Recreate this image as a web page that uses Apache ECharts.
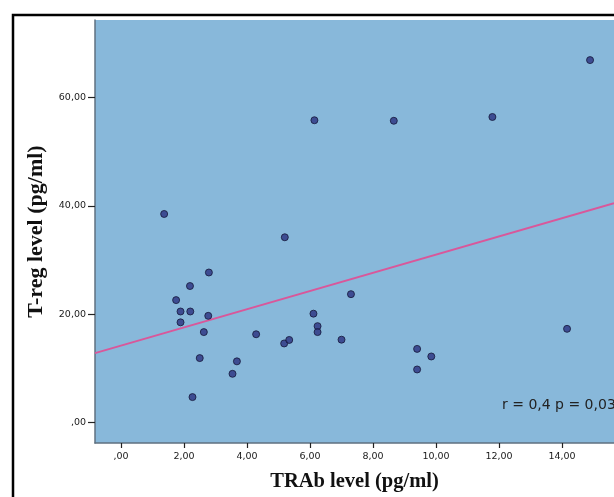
<!DOCTYPE html>
<html>
<head>
<meta charset="utf-8">
<script src="https://cdn.jsdelivr.net/npm/echarts@6/dist/echarts.min.js"></script>
<style>
  html, body { margin: 0; padding: 0; background: #fff; }
  #chart { width: 614px; height: 497px; }
</style>
</head>
<body>
<div id="chart"></div>
<script>
// TRAb level (x) vs T-reg level (y)
const trab = [1.37, 5.2, 2.79, 2.19, 1.75, 1.89, 2.2, 2.77, 1.89, 2.63, 4.29, 5.18, 5.34,
  6.11, 6.24, 6.24, 7.0, 7.3, 2.5, 3.68, 3.54, 2.27, 6.14, 8.66, 11.79, 14.89,
  9.4, 9.85, 9.4, 14.16];
const treg = [38.5, 34.2, 27.7, 25.2, 22.6, 20.5, 20.5, 19.7, 18.5, 16.7, 16.3, 14.6, 15.25,
  20.1, 17.8, 16.7, 15.3, 23.7, 11.9, 11.3, 9.0, 4.7, 55.8, 55.7, 56.4, 66.9,
  13.6, 12.2, 9.8, 17.3];

const xTicks = [0, 2, 4, 6, 8, 10, 12, 14];
const yTicks = [0, 20, 40, 60];

// fit line as drawn
const fitIntercept = 14.2;
const fitSlope = 1.68;

const xMin = -0.825, xMax = 15.65;
const yMin = -3.77, yMax = 74.3;

const points = trab.map((x, i) => [x, treg[i]]);
const fitLine = [xMin, xMax].map(x => [x, fitIntercept + fitSlope * x]);

const fmt = v => (v === 0 ? ',00' : v.toFixed(2).replace('.', ','));

const chart = echarts.init(document.getElementById('chart'));

const tickLabel = {
  fontFamily: 'DejaVu Sans',
  fontSize: 9.5,
  color: '#1a1a1a'
};

chart.setOption({
  animation: false,
  grid: {
    left: 95,
    top: 20,
    right: 0,
    bottom: 54,
    show: true,
    backgroundColor: '#88b8da',
    borderWidth: 0
  },
  graphic: [
    {
      type: 'rect',
      shape: { x: 13, y: 15, width: 700, height: 600 },
      style: { fill: 'none', stroke: '#000', lineWidth: 2.5 },
      silent: true
    },
    {
      type: 'text',
      left: 502,
      top: 398,
      style: {
        text: 'r = 0,4 p = 0,03',
        fontFamily: 'DejaVu Sans',
        fontSize: 14,
        fill: '#222'
      }
    }
  ],
  xAxis: {
    type: 'value',
    min: xMin,
    max: xMax,
    name: 'TRAb level (pg/ml)',
    nameLocation: 'middle',
    nameGap: 28,
    nameTextStyle: {
      fontFamily: 'Liberation Serif',
      fontWeight: 'bold',
      fontSize: 20.5,
      color: '#111'
    },
    splitLine: { show: false },
    axisLine: { show: true, onZero: false, lineStyle: { color: '#5f7080', width: 1.5 } },
    axisTick: { show: true, length: 5, customValues: xTicks, lineStyle: { color: '#222', width: 1.2 } },
    axisLabel: Object.assign({ customValues: xTicks, formatter: fmt, margin: 9 }, tickLabel)
  },
  yAxis: {
    type: 'value',
    min: yMin,
    max: yMax,
    name: 'T-reg level (pg/ml)',
    nameLocation: 'middle',
    nameGap: 48,
    nameTextStyle: {
      fontFamily: 'Liberation Serif',
      fontWeight: 'bold',
      fontSize: 22,
      color: '#111'
    },
    splitLine: { show: false },
    axisLine: { show: true, onZero: false, lineStyle: { color: '#5f7080', width: 1.5 } },
    axisTick: { show: true, length: 7, customValues: yTicks, lineStyle: { color: '#222', width: 1.2 } },
    axisLabel: Object.assign({ customValues: yTicks, formatter: fmt, margin: 9 }, tickLabel)
  },
  series: [
    {
      type: 'line',
      data: fitLine,
      showSymbol: false,
      symbol: 'none',
      lineStyle: { color: '#d9579a', width: 2 },
      z: 2
    },
    {
      type: 'scatter',
      data: points,
      symbol: 'circle',
      symbolSize: 7,
      itemStyle: { color: '#2b3180', borderColor: '#15183a', borderWidth: 1 },
      z: 3
    }
  ]
});
</script>
</body>
</html>
